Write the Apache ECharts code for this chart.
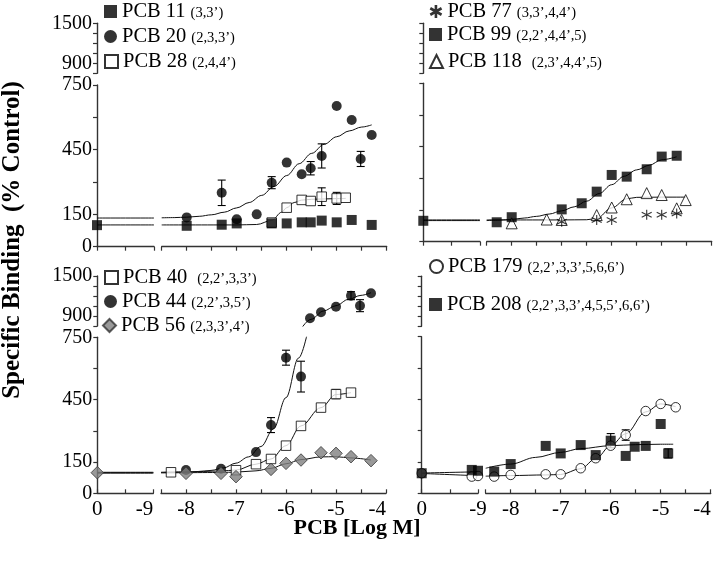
<!DOCTYPE html>
<html>
<head>
<meta charset="utf-8">
<script src="https://cdn.jsdelivr.net/npm/echarts@6.0.0/dist/echarts.min.js"></script>
<style>html,body{margin:0;padding:0;background:#fff;}#chart{width:715px;height:575px;}</style>
</head>
<body>
<div id="chart"></div>
<script>
// ================= DATA (x = log M, y = % control) =================
// Panel A (top-left)
const pcb11Ctrl = [[0, 100]];
const pcb11 = [[-8, 97], [-7.3, 102], [-7, 108], [-6.3, 108], [-6, 108], [-5.7, 113], [-5.52, 113], [-5.3, 121], [-5, 113], [-4.7, 124], [-4.3, 101]];
const pcb20 = [[-8, 136], [-7.3, 250], [-7, 127], [-6.6, 150], [-6.3, 297], [-6, 390], [-5.7, 336], [-5.52, 364], [-5.3, 421], [-5, 653], [-4.7, 588], [-4.52, 407], [-4.3, 518]];
const pcb20Err = [[-7.3, 250, 59], [-6.3, 297, 28], [-5.52, 364, 31], [-5.3, 421, 56], [-4.52, 407, 35]];
const pcb28 = [[-6.3, 112], [-6, 181], [-5.7, 217], [-5.52, 212], [-5.3, 232], [-5, 224], [-4.82, 227]];
const pcb28Err = [[-5.3, 232, 41], [-5, 224, 28]];
const fit20Ctrl = [[0, 133], [-9, 133]];
const fit20 = [[-8.5, 134], [-8.25, 135], [-8, 137], [-7.75, 141], [-7.5, 148], [-7.25, 160], [-7, 180], [-6.75, 205], [-6.5, 238], [-6.25, 280], [-6, 330], [-5.75, 385], [-5.5, 433], [-5.25, 475], [-5, 510], [-4.75, 537], [-4.5, 555], [-4.3, 565]];
const fit28Ctrl = [[0, 101], [-9, 101]];
const fit28 = [[-8.5, 101], [-7, 101], [-6.6, 103], [-6.3, 122], [-6.1, 160], [-6, 181], [-5.85, 205], [-5.7, 216], [-5.5, 220], [-5, 223], [-4.82, 224]];

// Panel B (top-right)
const pcb99Ctrl = [[0, 99]];
const pcb99 = [[-8.3, 92], [-8, 116], [-7, 153], [-6.6, 182], [-6.3, 237], [-6, 316], [-5.7, 308], [-5.3, 343], [-5, 403], [-4.7, 407]];
const pcb118 = [[-8, 87], [-7.3, 105], [-7, 103], [-6.3, 126], [-6, 162], [-5.7, 201], [-5.3, 230], [-5, 221], [-4.7, 158], [-4.52, 197]];
const pcb77 = [[-7, 95], [-6.3, 103], [-6, 103], [-5.3, 128], [-5, 128], [-4.7, 134]];
const fit99Ctrl = [[0, 100], [-9, 100]];
const fit99 = [[-8.5, 100], [-8.25, 102], [-8, 106], [-7.75, 112], [-7.5, 120], [-7.25, 131], [-7, 146], [-6.75, 165], [-6.5, 192], [-6.25, 228], [-6, 270], [-5.75, 310], [-5.5, 340], [-5.25, 362], [-5, 388], [-4.7, 402]];
const fit118Ctrl = [[0, 103], [-9, 103]];
const fit118 = [[-8.5, 103], [-7, 103], [-6.5, 104], [-6.3, 110], [-6, 160], [-5.7, 203], [-5.5, 210], [-5, 211], [-4.52, 211]];

// Panel C (bottom-left)
const pcb56Ctrl = [[0, 99]];
const pcb40 = [[-8.3, 101], [-7, 111], [-6.6, 140], [-6.3, 165], [-6, 229], [-5.7, 324], [-5.3, 412], [-5, 477], [-4.7, 484]];
const pcb40Err = [[-5, 477, 22]];
const pcb44 = [[-8, 112], [-7.3, 118], [-6.6, 198], [-6.3, 328], [-6, 652], [-5.7, 561], [-5.52, 865], [-5.3, 955], [-5, 1040], [-4.7, 1205], [-4.52, 1055], [-4.3, 1240]];
const pcb44Err = [[-6.3, 328, 36], [-6, 652, 36], [-5.7, 561, 74], [-4.7, 1205, 60], [-4.52, 1055, 90]];
const pcb56 = [[-8, 96], [-7.3, 96], [-7, 80], [-6.3, 115], [-6, 144], [-5.7, 160], [-5.3, 195], [-5, 192], [-4.7, 176], [-4.3, 157]];
const fit40Ctrl = [[0, 101], [-9, 101]];
const fit40 = [[-8.5, 101], [-8, 103], [-7.3, 107], [-7, 112], [-6.6, 140], [-6.3, 165], [-6, 229], [-5.7, 324], [-5.3, 412], [-5, 475], [-4.7, 484]];
const fit44Ctrl = [[0, 99], [-9, 99]];
const fit44 = [[-8.5, 100], [-8.25, 101], [-8, 102], [-7.75, 105], [-7.5, 110], [-7.25, 122], [-7, 145], [-6.75, 175], [-6.5, 225], [-6.25, 310], [-6, 460], [-5.75, 650], [-5.5, 850], [-5.25, 975], [-5, 1055], [-4.75, 1150], [-4.5, 1210], [-4.3, 1250]];
const fit56Ctrl = [[0, 97], [-9, 97]];
const fit56 = [[-8.5, 98], [-7.3, 100], [-7, 102], [-6.6, 108], [-6.3, 120], [-6, 142], [-5.7, 162], [-5.3, 175], [-5, 176], [-4.7, 170], [-4.3, 160]];

// Panel D (bottom-right)
const pcb208Ctrl = [[0, 96], [-8, 112], [-9, 108]];
const pcb208 = [[-8.33, 104], [-8, 140], [-7.3, 227], [-7, 191], [-6.6, 231], [-6.3, 183], [-6, 252], [-5.7, 179], [-5.52, 223], [-5.3, 227], [-5, 332], [-4.85, 191]];
const pcb208Err = [[-6, 252, 34], [-4.85, 191, 22]];
const pcb179Ctrl = [[0, 96], [-8, 80], [-9, 83]];
const pcb179 = [[-8.33, 80], [-8, 88], [-7.3, 91], [-7, 91], [-6.6, 120], [-6.3, 168], [-6, 228], [-5.7, 279], [-5.3, 394], [-5, 428], [-4.7, 412]];
const pcb179Err = [[-5.7, 279, 25]];
const fit208Ctrl = [[0, 97], [-9, 103]];
const fit208 = [[-8.5, 120], [-8, 140], [-7.5, 172], [-7, 196], [-6.6, 214], [-6, 228], [-5.5, 233], [-5, 235], [-4.75, 235]];
const fit179Ctrl = [[0, 95], [-9, 84]];
const fit179 = [[-8.5, 82], [-8, 85], [-7.3, 88], [-7, 90], [-6.6, 118], [-6.3, 165], [-6, 228], [-5.7, 285], [-5.3, 390], [-5, 428], [-4.7, 415]];

// Tick labels
const yLabelsLow = [0, 150, 450, 750];
const yLabelsHigh = [900, 1500];
const xLabelsCtrl = [0, -9];
const xLabelsMain = [-8, -7, -6, -5, -4];

const congeners = {
  'PCB 11': ' {s|(3,3’)}', 'PCB 20': ' {s|(2,3,3’)}', 'PCB 28': ' {s|(2,4,4’)}',
  'PCB 77': ' {s|(3,3’,4,4’)}', 'PCB 99': ' {s|(2,2’,4,4’,5)}', 'PCB 118': '  {s|(2,3’,4,4’,5)}',
  'PCB 40': '  {s|(2,2’,3,3’)}', 'PCB 44': ' {s|(2,2’,3,5’)}', 'PCB 56': ' {s|(2,3,3’,4’)}',
  'PCB 179': ' {s|(2,2’,3,3’,5,6,6’)}', 'PCB 208': ' {s|(2,2’,3,3’,4,5,5’,6,6’)}'
};

// ================= STYLE / LAYOUT =================
const F = 'Liberation Serif';
const AX = '#333';
const SYM = {
  fsq: {symbol: 'rect', size: 10, style: {color: '#000'}},
  fci: {symbol: 'circle', size: 10, style: {color: '#000'}},
  osq: {symbol: 'rect', size: 9.5, style: {color: '#fff', borderColor: '#000', borderWidth: 1}},
  otr: {symbol: 'triangle', size: 11, style: {color: '#fff', borderColor: '#000', borderWidth: 1}},
  ast: {symbol: 'path://M0,-6L0,6M-5.2,-3L5.2,3M-5.2,3L5.2,-3', size: 10, style: {color: 'rgba(0,0,0,0)', borderColor: '#000', borderWidth: 1.1}},
  dia: {symbol: 'diamond', size: 12.5, style: {color: '#808080', borderColor: '#333', borderWidth: 1}},
  oci: {symbol: 'circle', size: 9.5, style: {color: '#fff', borderColor: '#000', borderWidth: 1}}
};

const panels = [
  {ax: 97, ce: 154, ms: 161.7, me: 386.7, y0: 246.7, y750: 85, u750: 73.3, u1500: 23.3, xLab: false, yLab: true, nine: 'right', tickIn: false},
  {ax: 423.3, ce: 480, ms: 486.7, me: 711.7, y0: 241.7, y750: 83.3, u750: 73.3, u1500: 23.3, xLab: false, yLab: false, nine: 'center', tickIn: false},
  {ax: 97.3, ce: 153.3, ms: 161, me: 386, y0: 493.3, y750: 337.3, u750: 326, u1500: 276, xLab: true, yLab: true, nine: 'right', tickIn: true},
  {ax: 421.7, ce: 478, ms: 485.7, me: 710.7, y0: 493.3, y750: 336.7, u750: 326.3, u1500: 276.3, xLab: true, yLab: false, nine: 'center', tickIn: true}
];

const panelSeries = [
  [
    {name: 'PCB 28', sym: 'osq', pts: pcb28, err: pcb28Err, fit: fit28, fitCtrl: fit28Ctrl},
    {name: 'PCB 20', sym: 'fci', pts: pcb20, err: pcb20Err, fit: fit20, fitCtrl: fit20Ctrl},
    {name: 'PCB 11', sym: 'fsq', pts: pcb11, ctrl: pcb11Ctrl}
  ],
  [
    {name: 'PCB 118', sym: 'otr', pts: pcb118, fit: fit118, fitCtrl: fit118Ctrl},
    {name: 'PCB 99', sym: 'fsq', pts: pcb99, ctrl: pcb99Ctrl, fit: fit99, fitCtrl: fit99Ctrl},
    {name: 'PCB 77', sym: 'ast', pts: pcb77}
  ],
  [
    {name: 'PCB 40', sym: 'osq', pts: pcb40, err: pcb40Err, fit: fit40, fitCtrl: fit40Ctrl},
    {name: 'PCB 44', sym: 'fci', pts: pcb44, err: pcb44Err, fit: fit44, fitCtrl: fit44Ctrl},
    {name: 'PCB 56', sym: 'dia', pts: pcb56, ctrl: pcb56Ctrl, fit: fit56, fitCtrl: fit56Ctrl}
  ],
  [
    {name: 'PCB 179', sym: 'oci', pts: pcb179, ctrl: pcb179Ctrl, err: pcb179Err, fit: fit179, fitCtrl: fit179Ctrl},
    {name: 'PCB 208', sym: 'fsq', pts: pcb208, ctrl: pcb208Ctrl, err: pcb208Err, fit: fit208, fitCtrl: fit208Ctrl}
  ]
];

const legendPos = [
  ['PCB 11', 104, 12], ['PCB 20', 104, 37], ['PCB 28', 104, 62],
  ['PCB 77', 429, 12], ['PCB 99', 429, 35], ['PCB 118', 429, 62],
  ['PCB 40', 104, 278], ['PCB 44', 104, 302], ['PCB 56', 102, 326],
  ['PCB 179', 429, 267], ['PCB 208', 429, 305]
];

// ================= BUILD =================
const grid = [], xAxis = [], yAxis = [], series = [], legend = [];
const lbl = {fontFamily: F, fontSize: 21, color: '#000'};
const axLine = {show: true, onZero: false, lineStyle: {color: AX, width: 1.4}};

panels.forEach((p, i) => {
  const h = p.y0 - p.y750;
  grid.push({left: p.ax, top: p.y750, width: p.ce - p.ax, height: h, outerBoundsMode: 'none', containLabel: false});
  grid.push({left: p.ms, top: p.y750, width: p.me - p.ms, height: h, outerBoundsMode: 'none', containLabel: false});
  grid.push({left: p.ms, top: p.u1500, width: p.me - p.ms, height: p.u750 - p.u1500, outerBoundsMode: 'none', containLabel: false});
  const g = i * 3;
  xAxis.push({type: 'value', gridIndex: g, min: -9, max: 0, interval: 4.5, inverse: true,
    axisLine: axLine, splitLine: {show: false},
    axisTick: {show: true, length: 4, inside: p.tickIn, lineStyle: {color: AX, width: 1.2}},
    axisLabel: {show: p.xLab, ...lbl, margin: 6, alignMinLabel: p.nine,
      formatter: v => xLabelsCtrl.includes(v) ? String(v) : ''}});
  yAxis.push({type: 'value', gridIndex: g, min: 0, max: 750, interval: 150, position: 'left',
    axisLine: axLine, splitLine: {show: false},
    axisTick: {show: true, length: 4, lineStyle: {color: AX, width: 1.2}},
    axisLabel: {show: p.yLab, ...lbl, fontSize: 20, margin: 5, formatter: v => yLabelsLow.includes(v) ? String(v) : ''}});
  xAxis.push({type: 'value', gridIndex: g + 1, min: -8.5, max: -4, interval: 0.5,
    axisLine: axLine, splitLine: {show: false},
    axisTick: {show: true, length: 4, inside: p.tickIn, lineStyle: {color: AX, width: 1.2}},
    axisLabel: {show: p.xLab, ...lbl, margin: 6, alignMaxLabel: 'right', formatter: v => xLabelsMain.includes(v) ? String(v) : ''}});
  yAxis.push({type: 'value', gridIndex: g + 1, min: 0, max: 750, interval: 150, show: false, splitLine: {show: false}});
  xAxis.push({type: 'value', gridIndex: g + 2, min: -8.5, max: -4, show: false, splitLine: {show: false}});
  yAxis.push({type: 'value', gridIndex: g + 2, min: 750, max: 1500, interval: 150, position: 'left', offset: p.ms - p.ax,
    axisLine: axLine, splitLine: {show: false},
    axisTick: {show: true, length: 4, lineStyle: {color: AX, width: 1.2}},
    axisLabel: {show: p.yLab, ...lbl, fontSize: 20, margin: 5, formatter: v => yLabelsHigh.includes(v) ? String(v) : ''}});
});

function errSeries(name, idx, data) {
  return {
    type: 'custom', name: name, xAxisIndex: idx, yAxisIndex: idx, data: data, z: 3, silent: true, animation: false,
    renderItem: (params, api) => {
      const x = api.value(0), m = api.value(1), e = api.value(2);
      const a = api.coord([x, m - e]), b = api.coord([x, m + e]);
      const w = 4, st = {stroke: '#000', lineWidth: 1.1};
      return {type: 'group', children: [
        {type: 'line', shape: {x1: a[0], y1: a[1], x2: b[0], y2: b[1]}, style: st},
        {type: 'line', shape: {x1: a[0] - w, y1: a[1], x2: a[0] + w, y2: a[1]}, style: st},
        {type: 'line', shape: {x1: b[0] - w, y1: b[1], x2: b[0] + w, y2: b[1]}, style: st}
      ]};
    }
  };
}
function lineSeries(name, idx, data) {
  return {type: 'line', name: name, xAxisIndex: idx, yAxisIndex: idx, data: data, symbol: 'none', showSymbol: false,
    smooth: 0.35, smoothMonotone: 'x', clip: true, silent: true, animation: false, z: 2,
    lineStyle: {color: '#111', width: 1}};
}

panelSeries.forEach((list, i) => {
  const g = i * 3;
  list.forEach(it => {
    const s = SYM[it.sym];
    const base = {type: 'scatter', symbol: s.symbol, symbolSize: s.size, itemStyle: s.style, silent: true, animation: false, z: 5};
    const low = it.pts.filter(d => d[1] <= 750), high = it.pts.filter(d => d[1] > 750);
    series.push({...base, name: it.name, xAxisIndex: g + 1, yAxisIndex: g + 1, data: low});
    if (high.length) series.push({...base, name: it.name + ' upper', xAxisIndex: g + 2, yAxisIndex: g + 2, data: high});
    if (it.ctrl) series.push({...base, name: it.name + ' control', xAxisIndex: g, yAxisIndex: g, data: it.ctrl});
    if (it.fit) {
      series.push(lineSeries(it.name + ' fit', g + 1, it.fit.filter(d => d[1] <= 900)));
      if (it.fit.some(d => d[1] > 750)) series.push(lineSeries(it.name + ' fit upper', g + 2, it.fit.filter(d => d[1] >= 600)));
    }
    if (it.fitCtrl) series.push(lineSeries(it.name + ' fit control', g, it.fitCtrl));
    if (it.err) {
      const el = it.err.filter(d => d[1] <= 750), eh = it.err.filter(d => d[1] > 750);
      if (el.length) series.push(errSeries(it.name + ' err', g + 1, el));
      if (eh.length) series.push(errSeries(it.name + ' err upper', g + 2, eh));
    }
  });
});

legendPos.forEach(([name, x, y]) => {
  const item = {name: name};
  if (name === 'PCB 77') item.itemStyle = {borderWidth: 2.6};
  legend.push({
    show: true, orient: 'vertical', left: x, top: y - 11, padding: 0, itemGap: 0,
    itemWidth: 13, itemHeight: 13, selectedMode: false, data: [item],
    formatter: n => '{m|' + n + '}' + congeners[n],
    textStyle: {fontFamily: F, fontSize: 20, color: '#000',
      rich: {m: {fontFamily: F, fontSize: 20.5, color: '#000', verticalAlign: 'bottom'},
             s: {fontFamily: F, fontSize: 14.5, color: '#000', verticalAlign: 'bottom', padding: [0, 0, 1, 0]}}}
  });
});

const option = {
  animation: false,
  backgroundColor: '#fff',
  grid, xAxis, yAxis, series, legend,
  graphic: [
    {type: 'text', x: 13, y: 240, rotation: Math.PI / 2,
      style: {text: 'Specific Binding  (% Control)', fontFamily: F, fontSize: 25, fontWeight: 'bold', fill: '#000', align: 'center', verticalAlign: 'middle'}},
    {type: 'text', x: 357, y: 528,
      style: {text: 'PCB [Log M]', fontFamily: F, fontSize: 22, fontWeight: 'bold', fill: '#000', align: 'center', verticalAlign: 'middle'}}
  ]
};

const chart = echarts.init(document.getElementById('chart'), null, {renderer: 'canvas', width: 715, height: 575});
chart.setOption(option);
</script>
</body>
</html>
